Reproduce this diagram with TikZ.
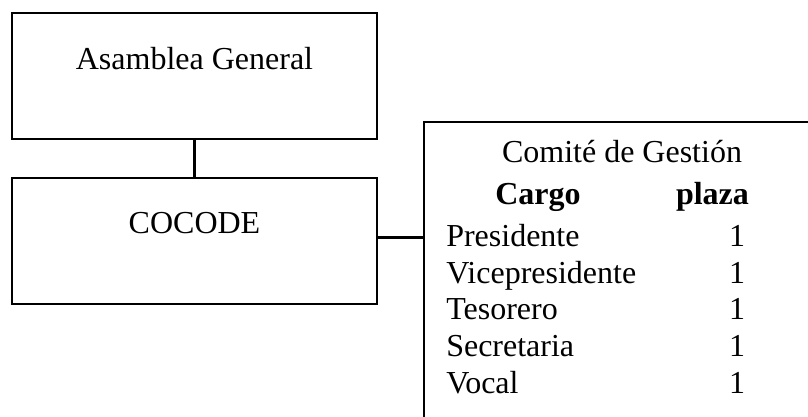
\documentclass[tikz,border=0pt]{standalone}
\usepackage{fontspec}
\setmainfont{Liberation Serif}
\begin{document}
\begin{tikzpicture}[x=0.75pt,y=-0.75pt,
  box/.style={draw, line width=2pt, rectangle, inner sep=0pt, minimum width=273.75pt, minimum height=94.5pt},
  txt/.style={font=\fontsize{24}{28}\selectfont, inner sep=0pt, anchor=base},
  rowtxt/.style={txt, anchor=base west},
  link/.style={line width=2pt}]
\useasboundingbox (0,0) rectangle (808,417);
\clip (0,0) rectangle (808,417);
\node[box] (box1) at (194.5,76) {};
\node[box] (box2) at (194.5,241) {};
\node[draw, line width=2pt, rectangle, inner sep=0pt, minimum width=312pt, minimum height=246pt] (box3) at (632,286) {};
\draw[link] (box1.south) -- (box2.north);
\draw[link] ([yshift=2.6pt]box2.east) -- ([yshift=2.6pt]box2.east -| box3.west);
\node[txt] (tA) at (194.5,70) {Asamblea General};
\node[txt] (tC) at (194.5,234) {COCODE};
\node[txt] (tG) at (622,163) {Comité de Gestión};
\node[txt, font=\fontsize{24}{28}\selectfont\bfseries] (hC) at (538,205) {Cargo};
\node[txt, font=\fontsize{24}{28}\selectfont\bfseries] (hP) at (712.5,205) {plaza};
\node[rowtxt] (r1) at (446,247) {Presidente};
\node[rowtxt] (r2) at (446,283.5) {Vicepresidente};
\node[rowtxt] (r3) at (446,320) {Tesorero};
\node[rowtxt] (r4) at (446,356.5) {Secretaria};
\node[rowtxt] (r5) at (446,393) {Vocal};
\node[txt] (n1) at (737,247) {1};
\node[txt] (n2) at (737,283.5) {1};
\node[txt] (n3) at (737,320) {1};
\node[txt] (n4) at (737,356.5) {1};
\node[txt] (n5) at (737,393) {1};
\end{tikzpicture}
\end{document}
